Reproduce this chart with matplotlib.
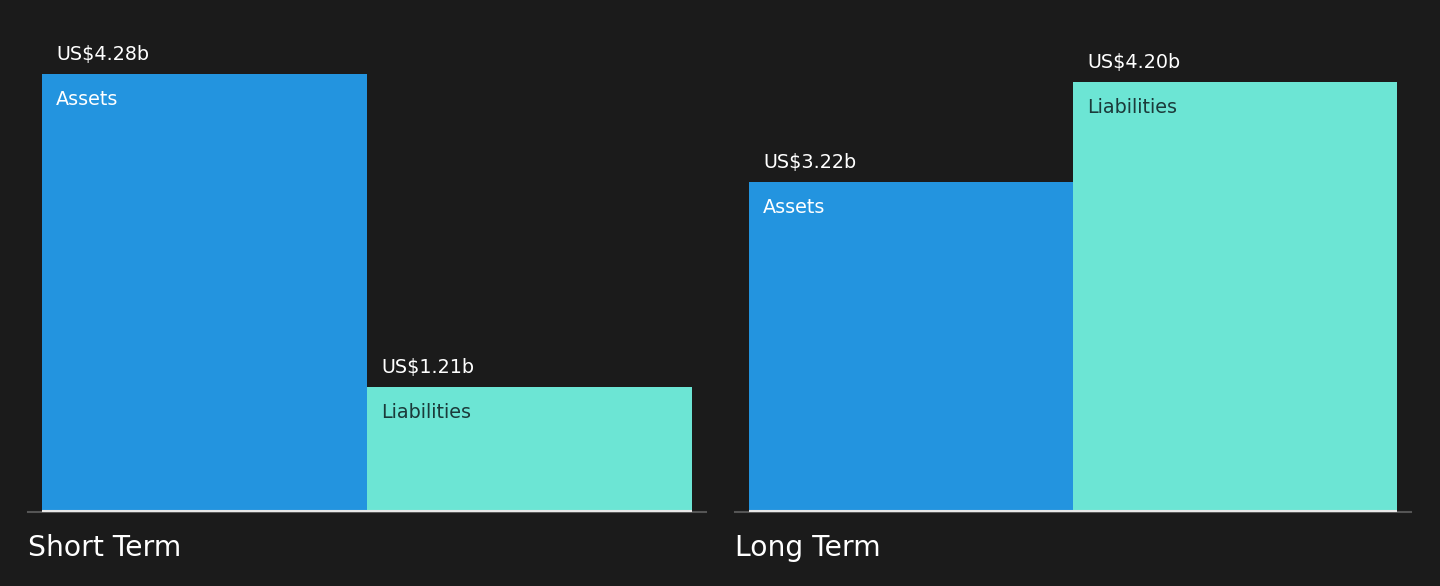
import matplotlib
matplotlib.use("Agg")
import matplotlib.pyplot as plt

groups = ["Short Term", "Long Term"]
categories = ["Assets", "Liabilities"]
values = [[4.28, 1.21], [3.22, 4.20]]
value_labels = [["US$4.28b", "US$1.21b"], ["US$3.22b", "US$4.20b"]]

BG = "#1b1b1b"
colors = ["#2394df", "#6ce5d4"]
text_colors = ["#ffffff", "#1b3a3a"]

W, H = 1440, 586
fig = plt.figure(figsize=(W / 100, H / 100), dpi=100, facecolor=BG)

axes_px = [(28, 706), (735, 1411)]
base_px = 511
scale = 102.1  # px per unit
ymax = base_px / scale

for gi, (x0, x1) in enumerate(axes_px):
    ax = fig.add_axes([x0 / W, (H - base_px) / H, (x1 - x0) / W, base_px / H])
    ax.set_facecolor(BG)
    pad = 14 / 325
    ax.set_xlim(-pad, 2 + pad)
    ax.set_ylim(0, ymax)
    for ci, v in enumerate(values[gi]):
        ax.bar(ci, v, width=1, align="edge", color=colors[ci], linewidth=0)
        ax.annotate(value_labels[gi][ci], (ci, v), xytext=(14, 10),
                    textcoords="offset pixels", color="white", fontsize=13.8,
                    ha="left", va="bottom")
        ax.annotate(categories[ci], (ci, v), xytext=(14, -16),
                    textcoords="offset pixels", color=text_colors[ci],
                    fontsize=13.8, ha="left", va="top")
    ax.plot([0, 2], [0, 0], color="#e8e8e8", lw=1.5, solid_capstyle="butt",
            clip_on=False, zorder=3)
    for s in ["top", "right", "left"]:
        ax.spines[s].set_visible(False)
    ax.spines["bottom"].set_color("#555555")
    ax.spines["bottom"].set_linewidth(1.5)
    ax.spines["bottom"].set_position(("outward", 1))
    ax.set_xticks([])
    ax.set_yticks([])
    fig.text(x0 / W, (H - 548) / H, groups[gi], color="white", fontsize=20.3,
             ha="left", va="center")

fig.savefig("out.png", dpi=100, facecolor=BG)
